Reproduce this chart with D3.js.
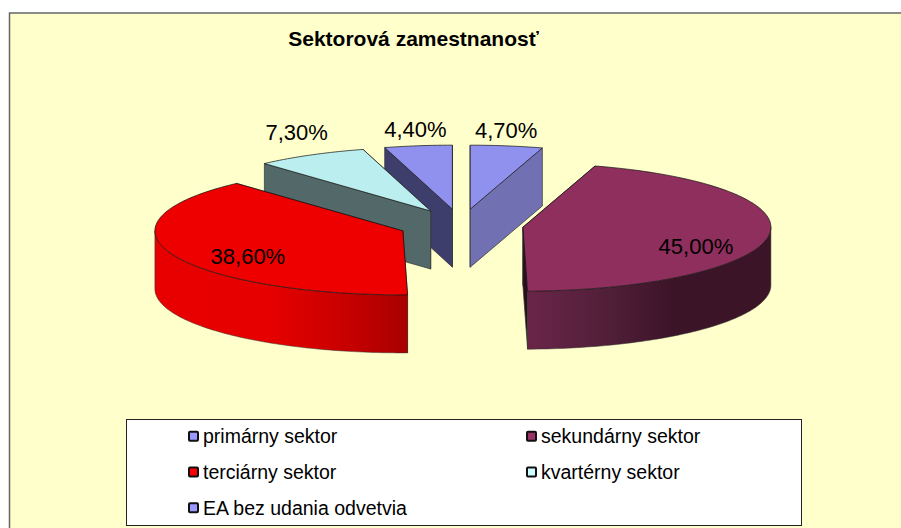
<!DOCTYPE html>
<html><head><meta charset="utf-8">
<script src="https://cdn.jsdelivr.net/npm/d3@7"></script>
<style>html,body{margin:0;padding:0;background:#fff;overflow:hidden}svg{display:block}text{font-family:"Liberation Sans",Arial,sans-serif;fill:#000}</style>
</head><body><svg id="c" width="901" height="528"></svg>
<script>
const chartTitle = "Sektorová zamestnanosť";
const categories = ["primárny sektor","sekundárny sektor","terciárny sektor","kvartérny sektor","EA bez udania odvetvia"];
const values = [4.7,45.0,38.6,7.3,4.4];
const valueLabels = ["4,70%","45,00%","38,60%","7,30%","4,40%"];
const topColors = ["#9090ee","#8e2f5d","#ee0000","#bbeeee","#9090ee"];
const faceColors = ["#7070b2","#2a0e1c","#b00000","#536868","#3e3e6c"];
const swatchColors = ["#9999ff","#993366","#ff0000","#ccffff","#9999ff"];
const labelOffsets = [[36,-79],[173,19],[-155,26],[-134,-79],[-37,-80]];

const cx=461, cy=225, rx=248, ry=64, explodeX=62.5, explodeY=16, depth=58;
const svg=d3.select("#c");
const defs=svg.append("defs");

function grad(id,x1,x2,stops){
  const g=defs.append("linearGradient").attr("id",id).attr("gradientUnits","userSpaceOnUse")
    .attr("x1",x1).attr("x2",x2).attr("y1",0).attr("y2",0);
  stops.forEach(s=>g.append("stop").attr("offset",s[0]).attr("stop-color",s[1]));
}
grad("sidePurple",527,771,[[0,"#6a2549"],[0.3,"#53203a"],[0.6,"#3c1428"],[1,"#3c1428"]]);
grad("sideRed",155,408,[[0,"#e80000"],[0.45,"#e60000"],[0.75,"#c80000"],[1,"#a80000"]]);
const sideFill={1:"url(#sidePurple)",2:"url(#sideRed)"};

// chart area runs past the right and bottom of the window
svg.append("rect").attr("x",9.5).attr("y",13).attr("width",900).attr("height",530)
  .attr("fill","#ffffcc").attr("stroke","#666").attr("stroke-width",1.5);

svg.append("text").attr("x",413.5).attr("y",46).attr("text-anchor","middle")
  .attr("font-size",21).attr("font-weight","bold").text(chartTitle);

// pie geometry from d3.pie
const arcs=d3.pie().sort(null).value(d=>d)(values);
const line=d3.line();
const pt=(c,a,dy=0)=>[c[0]+rx*Math.sin(a), c[1]-ry*Math.cos(a)+dy];
const centers=arcs.map(d=>{const m=(d.startAngle+d.endAngle)/2;
  return [cx+explodeX*Math.sin(m), cy-explodeY*Math.cos(m)];});
const samples=(a0,a1)=>{const n=Math.max(2,Math.ceil((a1-a0)/0.02));return d3.range(n+1).map(i=>a0+(a1-a0)*i/n);};

const paintOrder=[4,0,3,1,2];
paintOrder.forEach(i=>{
  const d=arcs[i], c=centers[i], g=svg.append("g");
  const faces=[d.startAngle,d.endAngle].sort((a,b)=>pt(c,a)[1]-pt(c,b)[1]);
  faces.forEach(a=>{
    const p=pt(c,a);
    g.append("path").attr("d",line([c,p,[p[0],p[1]+depth],[c[0],c[1]+depth]])+"Z")
      .attr("fill",faceColors[i]).attr("stroke","#333").attr("stroke-width",0.7);
  });
  const a0=Math.max(d.startAngle,Math.PI/2), a1=Math.min(d.endAngle,Math.PI*3/2);
  if(a1>a0){
    const up=samples(a0,a1).map(a=>pt(c,a));
    const dn=samples(a0,a1).reverse().map(a=>pt(c,a,depth));
    g.append("path").attr("d",line(up.concat(dn))+"Z").attr("fill",sideFill[i])
      .attr("stroke","#333").attr("stroke-width",0.5);
  }
  const top=[c].concat(samples(d.startAngle,d.endAngle).map(a=>pt(c,a)));
  g.append("path").attr("d",line(top)+"Z").attr("fill",topColors[i])
    .attr("stroke","#111").attr("stroke-width",0.7).attr("stroke-linejoin","round");
});

// value labels
arcs.forEach((d,i)=>{
  svg.append("text").attr("x",centers[i][0]+labelOffsets[i][0]).attr("y",centers[i][1]+labelOffsets[i][1]+7.5)
    .attr("text-anchor","middle").attr("font-size",22).text(valueLabels[i]);
});

// legend
svg.append("rect").attr("x",126.5).attr("y",419.5).attr("width",675).attr("height",106)
  .attr("fill","#fff").attr("stroke","#222").attr("stroke-width",1);
const legX=d3.scaleOrdinal().domain([0,1]).range([188,526]);
const legY=d3.scaleBand().domain([0,1,2]).range([419,526]);
categories.forEach((t,i)=>{
  const col=i%2,row=Math.floor(i/2);
  const x=legX(col), y=legY(row)+legY.bandwidth()/2;
  svg.append("rect").attr("x",x+1).attr("y",y-5).attr("width",9).attr("height",9)
    .attr("fill",swatchColors[i]).attr("stroke","#111").attr("stroke-width",2).attr("rx",1);
  svg.append("text").attr("x",x+15).attr("y",y+6.5).attr("font-size",19.5).text(t);
});
</script></body></html>
